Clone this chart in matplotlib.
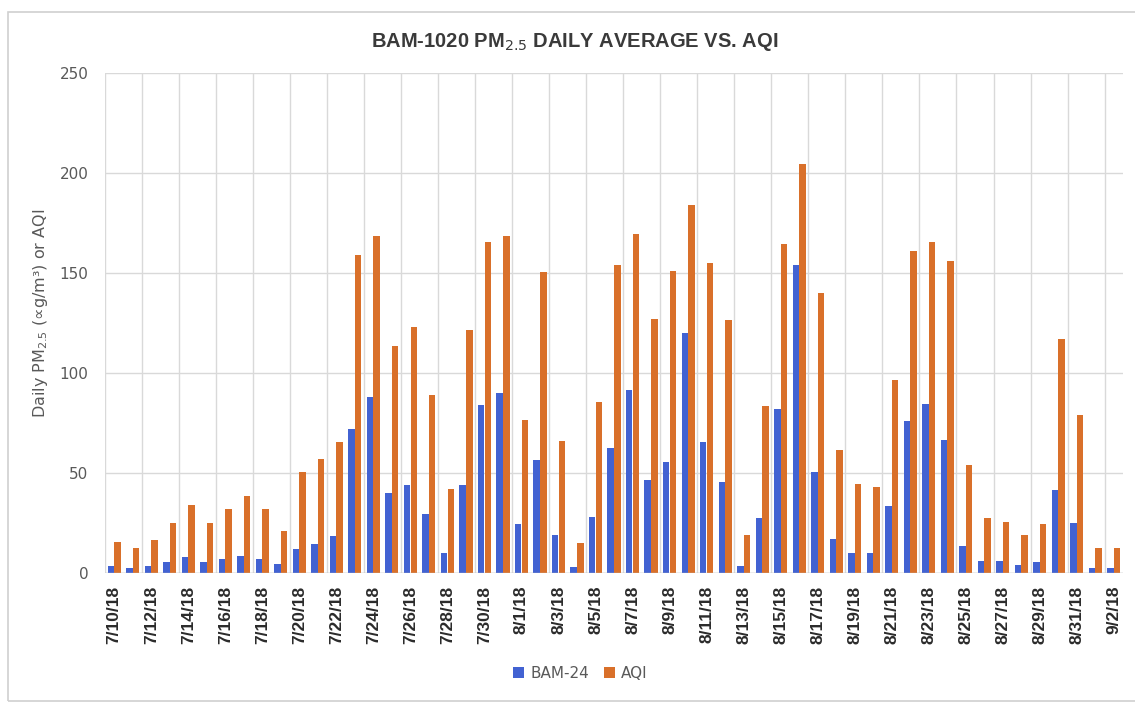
import matplotlib
matplotlib.use("Agg")
import matplotlib.pyplot as plt
import numpy as np
from matplotlib.patches import Rectangle

# daily dates 7/10/18 .. 9/2/18
dates = ([f"7/{d}/18" for d in range(10, 32)] +
         [f"8/{d}/18" for d in range(1, 32)] +
         [f"9/{d}/18" for d in range(1, 3)])

bam24 = [3.4, 2.4, 3.4, 5.4, 8, 5.4, 7.1, 8.8, 7.1, 4.6,
         12.2, 14.7, 18.6, 71.9, 88.3, 40.1, 44, 29.6, 10, 44.3,
         84.1, 90, 24.4, 56.5, 19, 3.2, 27.9, 62.6, 91.7, 46.4,
         55.7, 120, 65.8, 45.5, 3.7, 27.7, 82, 154, 50.8, 17.3,
         10, 10, 33.7, 76, 84.4, 66.7, 13.4, 6.3, 6.3, 4.1,
         5.4, 41.8, 24.9, 2.4, 2.4]
aqi = [15.6, 12.5, 16.4, 24.9, 34.2, 24.9, 32, 38.4, 32, 21.2,
       50.8, 57, 65.8, 158.9, 168.4, 113.7, 123, 89.2, 42, 121.7,
       165.7, 168.7, 76.5, 150.4, 66.3, 15.1, 85.8, 154.3, 169.5, 127.2,
       150.9, 183.9, 155.2, 126.4, 19, 83.8, 164.5, 204.8, 139.9, 61.6,
       44.7, 43, 96.8, 161, 165.7, 156.3, 54.1, 27.4, 25.7, 19,
       24.4, 117.1, 79, 12.5, 12.5]

blue = "#4262D2"
orange = "#D9702A"
grid_c = "#D9D9D9"

fig = plt.figure(figsize=(11.35, 7.05), dpi=100)
# light chart frame
fig.patches.append(Rectangle((0.007, 0.006), 1.2, 0.977, transform=fig.transFigure,
                             fill=False, edgecolor="#D0D0D0", lw=1.2))
ax = fig.add_axes([0.0925, 0.187, 0.897, 0.709])

x = np.arange(len(dates))
w = 0.35
ax.bar(x - 0.18, bam24, width=w, color=blue, label="BAM-24", zorder=3)
ax.bar(x + 0.18, aqi, width=w, color=orange, label="AQI", zorder=3)

ax.set_xlim(-0.5, len(dates) - 0.5)
ax.set_ylim(0, 250)
ax.set_yticks(range(0, 251, 50))
ax.grid(axis="y", color=grid_c, lw=1, zorder=0)
for b in np.arange(-0.5, len(dates) - 1, 2):
    ax.axvline(b, color=grid_c, lw=1, zorder=0)

ax.set_xticks(x[::2])
ax.set_xticklabels(dates[::2], rotation=90, fontsize=12.5, fontweight="bold",
                   color="#2b2b2b", family=["Liberation Sans", "DejaVu Sans"])
ax.tick_params(axis="x", length=0, pad=9)
ax.tick_params(axis="y", length=0, pad=12, labelsize=11, labelcolor="#595959")
for s in ax.spines.values():
    s.set_visible(False)
ax.axhline(0, color="#BFBFBF", lw=1, zorder=4)

ax.set_ylabel("Daily PM$_{2.5}$ (∝g/m³) or AQI", fontsize=11.5, color="#595959", labelpad=10)
ax.yaxis.set_label_coords(-0.054, 0.52)

fig.text(0.506, 0.94, "BAM-1020 PM$_{2.5}$ DAILY AVERAGE VS. AQI", ha="center", va="center",
         fontsize=14.5, fontweight="bold", color="#3a3a3a",
         family=["Liberation Sans Narrow", "Liberation Sans"])

ax.legend(loc="center", bbox_to_anchor=(0.467, -0.2), ncol=2, frameon=False,
          fontsize=11, handlelength=0.7, handleheight=0.7, handletextpad=0.4,
          columnspacing=1.0, labelcolor="#595959")

fig.savefig("out.png", dpi=100)
